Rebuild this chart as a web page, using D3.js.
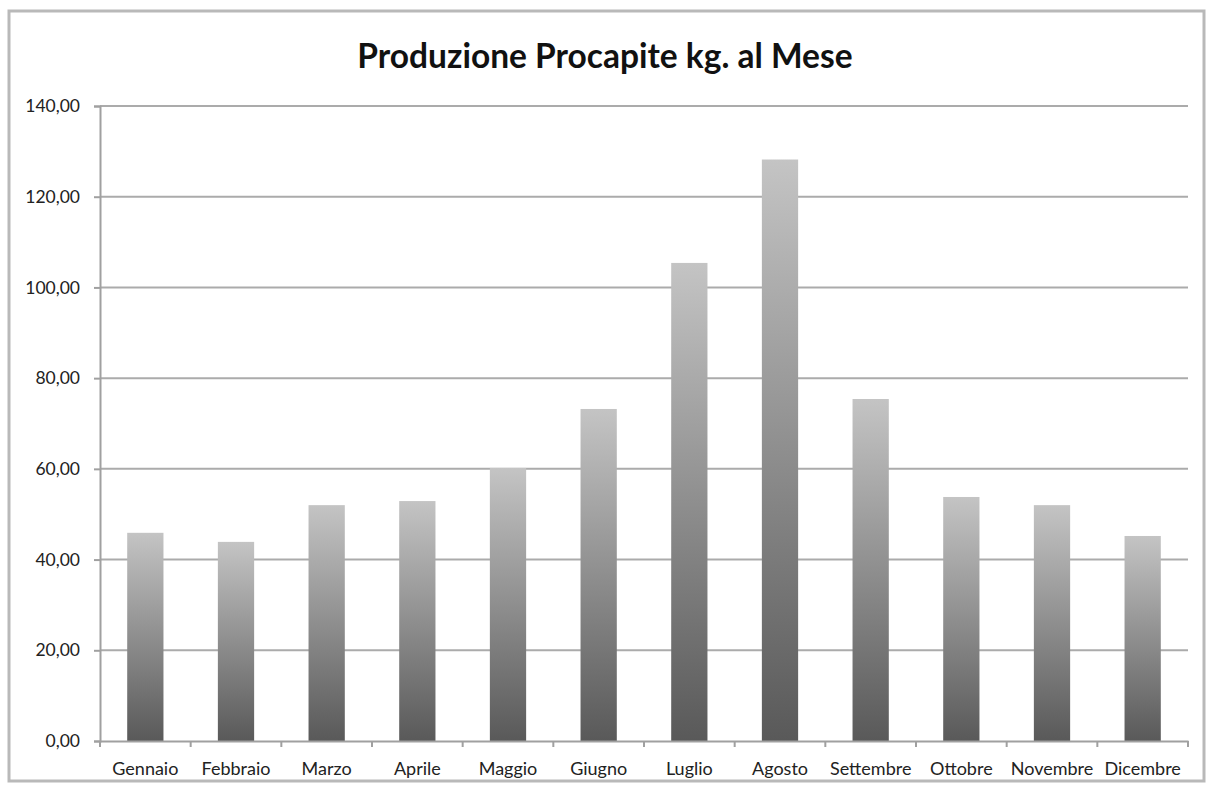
<!DOCTYPE html>
<html>
<head>
<meta charset="utf-8">
<script src="https://cdn.jsdelivr.net/npm/d3@7/dist/d3.min.js"></script>
<style>
  html, body { margin: 0; padding: 0; background: #fff; }
  svg { display: block; }
</style>
</head>
<body>
<svg id="chart" width="1213" height="792"></svg>
<script>
// Monthly per-capita production (kg)
const months = ["Gennaio", "Febbraio", "Marzo", "Aprile", "Maggio", "Giugno",
                "Luglio", "Agosto", "Settembre", "Ottobre", "Novembre", "Dicembre"];
const values = [45.9, 43.9, 52.0, 52.9, 60.2, 73.2, 105.4, 128.2, 75.4, 53.8, 52.0, 45.2];
const yTicks = [0, 20, 40, 60, 80, 100, 120, 140];
const title = "Produzione Procapite kg. al Mese";

const svg = d3.select("#chart");
const W = 1213, H = 792;
const plot = { left: 100, right: 1188, top: 106, bottom: 741 };
const font = "Lato, 'Open Sans', sans-serif";

// Outer frame
svg.append("rect")
  .attr("x", 9).attr("y", 11).attr("width", W - 18).attr("height", H - 22)
  .attr("fill", "#fff").attr("stroke", "#b9b9b9").attr("stroke-width", 3);

// Vertical gradient for bars: light at the top, dark at the base
const grad = svg.append("defs").append("linearGradient")
  .attr("id", "barGrad").attr("x1", 0).attr("y1", 0).attr("x2", 0).attr("y2", 1);
grad.append("stop").attr("offset", "0%").attr("stop-color", "#c4c4c4");
grad.append("stop").attr("offset", "100%").attr("stop-color", "#595959");

const x = d3.scaleBand().domain(months).range([plot.left, plot.right])
  .paddingInner(0.6).paddingOuter(0.3);
const xTicks = d3.scaleBand().domain(months).range([plot.left, plot.right]);
const y = d3.scaleLinear().domain([0, 140]).range([plot.bottom, plot.top]);

const fmt = v => d3.format(".2f")(v).replace(".", ",");

// Horizontal grid lines
svg.append("g").selectAll("line").data(yTicks.filter(t => t > 0)).join("line")
  .attr("x1", plot.left).attr("x2", plot.right)
  .attr("y1", d => y(d)).attr("y2", d => y(d))
  .attr("stroke", "#ababab").attr("stroke-width", 2);

// Bars
svg.append("g").selectAll("rect").data(values).join("rect")
  .attr("x", (d, i) => x(months[i]))
  .attr("y", d => y(d))
  .attr("width", x.bandwidth())
  .attr("height", d => y(0) - y(d))
  .attr("fill", "url(#barGrad)");

// Y axis
const yAxis = svg.append("g").attr("transform", `translate(${plot.left},0)`)
  .call(d3.axisLeft(y).tickValues(yTicks).tickFormat(fmt).tickSize(6).tickPadding(14));
yAxis.select(".domain").attr("stroke", "#a0a0a0").attr("stroke-width", 2);
yAxis.selectAll(".tick line").attr("stroke", "#a0a0a0").attr("stroke-width", 2);
yAxis.selectAll("text").attr("font-family", font).attr("font-size", 17.5).attr("fill", "#222");

// X axis with ticks on category boundaries
const xAxis = svg.append("g").attr("transform", `translate(0,${plot.bottom})`)
  .call(d3.axisBottom(x).tickSize(0).tickPadding(21));
xAxis.select(".domain").attr("stroke", "#a0a0a0").attr("stroke-width", 2);
xAxis.selectAll("text").attr("font-family", font).attr("font-size", 18).attr("fill", "#222");
const bounds = months.map(m => xTicks(m)).concat([plot.right]);
svg.append("g").selectAll("line").data(bounds).join("line")
  .attr("x1", d => d).attr("x2", d => d)
  .attr("y1", plot.bottom).attr("y2", plot.bottom + 6)
  .attr("stroke", "#a0a0a0").attr("stroke-width", 2);

// Title
svg.append("text")
  .attr("x", 605).attr("y", 68)
  .attr("text-anchor", "middle")
  .attr("font-family", font).attr("font-weight", "bold").attr("font-size", 33.5)
  .attr("fill", "#111")
  .text(title);
</script>
</body>
</html>
